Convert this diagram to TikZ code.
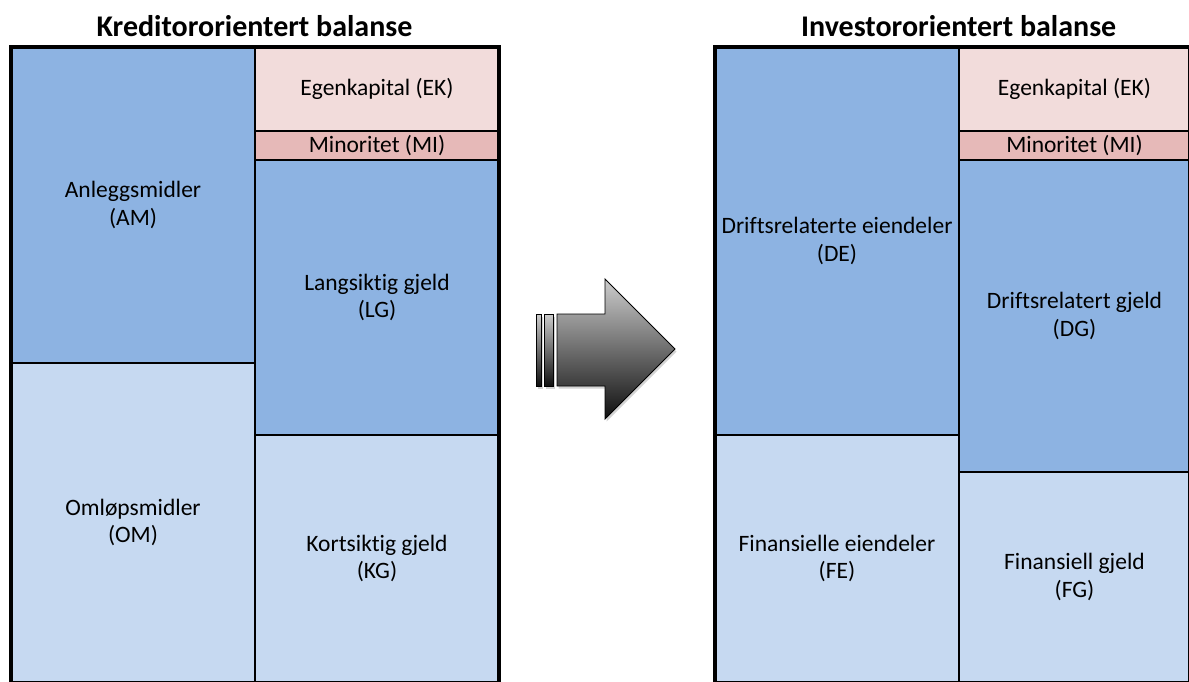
\documentclass[tikz,border=0pt]{standalone}
\usepackage{fontspec}
\setmainfont{Carlito}[Ligatures={NoCommon}]
\usetikzlibrary{shadows}
\definecolor{dblue}{RGB}{141,179,226}
\definecolor{lblue}{RGB}{198,217,241}
\definecolor{lpink}{RGB}{242,220,219}
\definecolor{dpink}{RGB}{230,185,184}
\definecolor{atop}{RGB}{205,205,205}
\definecolor{abot}{RGB}{15,15,15}
\begin{document}
\begin{tikzpicture}[x=1pt,y=-1pt,
  cell/.style={draw=black, line width=1.2pt, inner sep=0pt, align=center,
    font=\fontsize{23.5}{27.5}\selectfont},
  frame/.style={line width=3.5pt, draw=black},
  title/.style={font=\fontsize{30}{34}\selectfont\bfseries, anchor=base},
  arrowshape/.style={top color=atop, bottom color=abot, draw=black, line width=0.9pt,
    drop shadow={shadow xshift=1.5pt, shadow yshift=-2.5pt, opacity=0.35}}]
\useasboundingbox (0,0) rectangle (1189,681);

% Left balance
\node[cell, fill=dblue, minimum width=244pt, minimum height=316pt] (am) at (133,205) {Anleggsmidler\\(AM)};
\node[cell, fill=lblue, minimum width=244pt, minimum height=319pt] (om) at (133,522.5) {Omløpsmidler\\(OM)};
\node[cell, fill=lpink, minimum width=244pt, minimum height=84pt] (ek1) at (377,89) {Egenkapital (EK)};
\node[cell, fill=dpink, minimum width=244pt, minimum height=29pt] (mi1) at (377,145.5) {Minoritet (MI)};
\node[cell, fill=dblue, minimum width=244pt, minimum height=275pt] (lg) at (377,297.5) {Langsiktig gjeld\\(LG)};
\node[cell, fill=lblue, minimum width=244pt, minimum height=247pt] (kg) at (377,558.5) {Kortsiktig gjeld\\(KG)};
\draw[frame] (11,690) |- (499,47) -- (499,690);
\node[title] (t1) at (254.5,36) {Kreditororientert balanse};

% Right balance
\node[cell, fill=dblue, minimum width=244pt, minimum height=388pt] (de) at (837,241) {Driftsrelaterte eiendeler\\(DE)};
\node[cell, fill=lblue, minimum width=244pt, minimum height=247pt] (fe) at (837,558.5) {Finansielle eiendeler\\(FE)};
\node[cell, fill=lpink, minimum width=231pt, minimum height=84pt] (ek2) at (1074.5,89) {Egenkapital (EK)};
\node[cell, fill=dpink, minimum width=231pt, minimum height=29pt] (mi2) at (1074.5,145.5) {Minoritet (MI)};
\node[cell, fill=dblue, minimum width=231pt, minimum height=312pt] (dg) at (1074.5,316) {Driftsrelatert gjeld\\(DG)};
\node[cell, fill=lblue, minimum width=231pt, minimum height=210pt] (fg) at (1074.5,577) {Finansiell gjeld\\(FG)};
\draw[frame] (715,690) |- (1190,47) -- (1190,690);
\node[title] (t2) at (958.7,36) {Investororientert balanse};

% Arrow
\shade[arrowshape] (536,314) rectangle (541,386);
\shade[arrowshape] (544,314) rectangle (553,386);
\shade[arrowshape] (557,314) -- (605,314) -- (605,279) -- (675,349) -- (605,419) -- (605,386) -- (557,386) -- cycle;
\end{tikzpicture}
\end{document}
